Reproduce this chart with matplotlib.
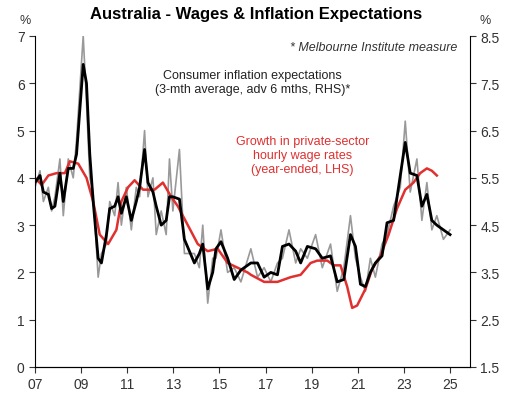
import matplotlib
matplotlib.use("Agg")
import matplotlib.pyplot as plt
import numpy as np
plt.rcParams['font.family'] = ['Liberation Sans', 'DejaVu Sans']

def yr(px): return 2007 + (px - 33.3) / 23.15

blk_px = [33.3,38.3,41.7,46.7,50,53.3,58.3,61.7,66.7,71.7,75,81.7,85,88.3,91.7,96.7,100,105,108.3,113.3,116.7,120,125,130,135,138.3,143.3,146.7,151.7,155,160,165,168.3,171.7,178.3,183.3,193.3,198.3,201.7,206.7,211.7,215,220,226.7,233.3,240,
          250,256.7,263.3,270,276.7,281.7,288.3,295,300,306.7,315,321.7,330,336.7,343.3,350,355,360,365,370,375,381.7,386.7,393.3,400,405,410,416.7,421.7,426.7,431.7,436.7,443.3,450]
blk_v = [3.9,4.05,3.7,3.65,3.35,3.4,4.1,3.5,4.2,4.2,4.5,6.4,6.0,4.5,3.5,2.3,2.2,2.8,3.35,3.4,3.6,3.25,3.6,3.1,3.5,3.8,4.6,3.9,3.7,3.4,3.0,3.1,3.6,3.6,3.55,2.7,2.2,2.4,2.6,1.65,2.0,2.5,2.65,2.3,1.85,2.05,
         2.2,2.2,1.9,2.0,1.95,2.55,2.6,2.45,2.2,2.55,2.5,2.3,2.35,1.8,1.85,2.8,2.55,1.75,1.7,2.0,2.2,2.35,3.05,3.1,4.05,4.75,4.1,4.05,3.4,3.65,3.1,3.0,2.9,2.8]
gry_v = [3.8,4.15,3.5,3.8,3.3,3.6,4.4,3.2,4.4,4.0,4.8,7.0,5.6,4.0,3.7,1.9,2.4,2.6,3.5,3.2,3.9,3.0,3.8,2.9,3.8,3.6,5.0,3.6,4.0,2.8,3.3,2.8,4.4,3.3,4.6,2.4,2.4,2.1,3.0,1.35,2.3,2.3,2.9,2.0,2.1,1.8,
         2.5,1.9,2.1,1.8,2.2,2.3,2.9,2.2,2.5,2.3,2.8,2.1,2.6,1.6,2.1,3.2,2.3,1.9,1.6,2.3,1.9,2.6,2.8,3.4,3.8,5.2,3.7,4.4,3.1,3.9,2.9,3.2,2.7,2.9]
red_px = [33.3,40,46.7,55,63.3,68.3,76.7,85,91.7,98.3,106.7,115,120,126.7,133.3,141.7,153.3,161.7,170,176.7,186.7,196.7,206.7,216.7,226.7,236.7,246.7,
          250,263.3,276.7,290,300,310,316.7,326.7,333.3,340,346.7,351.7,356.7,365,371.7,380,388.3,396.7,405,413.3,420,426.7,431.7,436.7]
red_v = [4.0,3.85,4.05,4.1,4.1,4.35,4.3,4.0,3.5,2.8,2.6,2.9,3.5,3.8,3.95,3.75,3.75,3.9,3.6,3.4,3.0,2.6,2.45,2.5,2.2,2.1,2.0,
         1.95,1.8,1.8,1.9,1.95,2.2,2.25,2.25,2.15,2.15,1.7,1.25,1.3,1.65,2.07,2.35,2.8,3.35,3.75,3.9,4.1,4.2,4.15,4.05]

fig = plt.figure(figsize=(5.13, 4.02), dpi=100)
ax = fig.add_axes([35/513, 34/402, (470-35)/513, (368-37)/402])
bx = [yr(p) for p in blk_px]
ax.plot(bx, gry_v, color="#999999", lw=1.2)
ax.plot([yr(p) for p in red_px], red_v, color="#e03030", lw=1.8)
ax.plot(bx, blk_v, color="black", lw=2.0)
ax.set_xlim(2007, yr(470))
ax.set_ylim(0, 7)
ax.set_yticks(range(0, 8))
ax.set_xticks(range(2007, 2026, 2))
ax.set_xticklabels([f"{y%100:02d}" for y in range(2007, 2026, 2)])
ax2 = ax.twinx()
ax2.set_ylim(1.5, 8.5)
ax2.set_yticks(np.arange(1.5, 8.6, 1.0))
for a in (ax, ax2):
    a.spines["top"].set_visible(False)
    a.tick_params(labelsize=10, colors="#333333", direction="out", length=4)
ax.spines["right"].set_visible(False)
ax2.spines["left"].set_visible(False)
fig.text(0.5, 0.965, "Australia - Wages & Inflation Expectations", ha="center", va="center", fontsize=12, fontweight="bold")
fig.text(25/513, 0.94, "%", ha="center", fontsize=9, color="#333333")
fig.text(485/513, 0.94, "%", ha="center", fontsize=9, color="#333333")
ax.text(0.97, 0.985, "* Melbourne Institute measure", transform=ax.transAxes, ha="right", va="top", fontsize=9, style="italic", color="#333333")
ax.text(0.50, 0.90, "Consumer inflation expectations\n(3-mth average, adv 6 mths, RHS)*", transform=ax.transAxes, ha="center", va="top", fontsize=9, color="#222222")
ax.text(0.615, 0.70, "Growth in private-sector\nhourly wage rates\n(year-ended, LHS)", transform=ax.transAxes, ha="center", va="top", fontsize=9, color="#e03030")
fig.savefig("out.png", dpi=100)
